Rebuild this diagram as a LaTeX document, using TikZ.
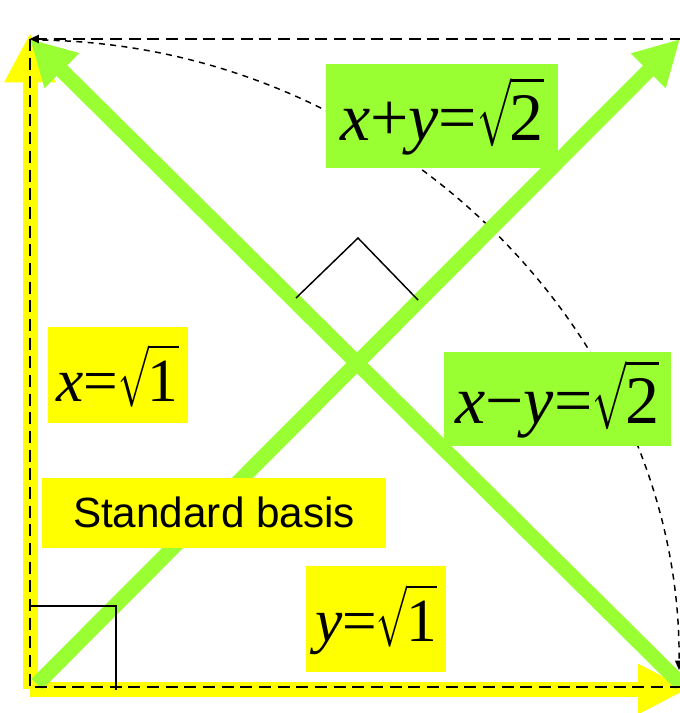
\RequirePackage{fix-cm}
\documentclass[tikz,border=0pt]{standalone}
\usepackage{graphicx}
\usepackage{fontspec}
\setmainfont{Liberation Serif}
\newfontfamily\arialf{Liberation Sans}
\usetikzlibrary{arrows.meta}
\definecolor{lgreen}{HTML}{99FF33}
\definecolor{yel}{HTML}{FFFF00}
\newsavebox\rtsign
\newsavebox\rtbody
\newcommand\rt[1]{\mbox{%
  \sbox\rtsign{$\sqrt{\rule[-0.04em]{0pt}{0.84em}}$}%
  \sbox\rtbody{#1}%
  \scalebox{0.6}[1]{\usebox\rtsign}%
  \kern-0.02em
  \rlap{\rule[\dimexpr\ht\rtsign-0.08em\relax]{\wd\rtbody}{0.04em}}%
  \usebox\rtbody}}
\begin{document}
\begin{tikzpicture}[x=0.75pt,y=-0.75pt,
  yarr/.style={draw=yel,line width=11.25pt},
  garr/.style={draw=lgreen,line width=11.25pt},
  bord/.style={black,line width=1.5pt,dash pattern=on 9pt off 5pt},
  curv/.style={black,line width=1.1pt,dash pattern=on 4.5pt off 4pt},
  rmark/.style={black,line width=1.1pt},
  lab/.style={inner sep=0pt,text=black,anchor=center},
  gfont/.style={font=\fontsize{51}{56}\selectfont},
  yfont/.style={font=\fontsize{46}{50}\selectfont}
]
\useasboundingbox (0,0) rectangle (680,713);
% coordinates
\coordinate (O) at (30,689);
\coordinate (Ytip) at (30,33);
\coordinate (Xtip) at (688,689);
\coordinate (G1s) at (37,684);
\coordinate (G1e) at (680,39);
\coordinate (G2s) at (681,684);
\coordinate (G2e) at (30,39);
\coordinate (TL) at (29.5,39);
\coordinate (TR) at (682,39);
\coordinate (BL) at (29.5,687);
\coordinate (BR) at (682,687);
\coordinate (Cs) at (31,40);
\coordinate (Ce) at (679,670);
% dashed rotation curve
\draw[curv,-{Triangle[length=7pt,width=6pt]}] (Cs) .. controls (390,40) and (682,335) .. (Ce);
% standard basis (yellow)
\draw[yarr,-{Triangle[length=37pt,width=36pt]}] (O) -- (Ytip);
\draw[yarr,-{Triangle[length=37.5pt,width=35pt]}] (O) -- (Xtip);
% rotated basis (green)
\draw[garr,-{Triangle[length=33.75pt,width=34.5pt]}] (G1s) -- (G1e);
\draw[garr,-{Triangle[length=33.75pt,width=34.5pt]}] (G2s) -- (G2e);
% dashed frame
\draw[bord,-{Triangle[length=7pt,width=6pt]}] (TR) -- (TL);
\draw[bord] (TL) -- (BL) -- (BR);
% right-angle marks
\draw[rmark] (29.5,606) -- (116,606) -- (116,690);
\draw[rmark] (296,298) -- (358,238) -- (418,300);
% labels
\node[lab,fill=lgreen,minimum width=174pt,minimum height=78pt,gfont] (lxy) at (442,116) {\textit{x}+\textit{y}=\rt{2}};
\node[lab,fill=lgreen,minimum width=170.25pt,minimum height=70.5pt,gfont] (lxmy) at (557.3,399) {\textit{x}−\textit{y}=\rt{2}};
\node[lab,fill=yel,minimum width=105pt,minimum height=72pt,yfont] (lx) at (117.7,375.3) {\textit{x}=\rt{1}};
\node[lab,fill=yel,minimum width=105pt,minimum height=79.5pt,yfont] (ly) at (376,619) {\textit{y}=\rt{1}};
\node[lab,fill=yel,minimum width=258pt,minimum height=52.5pt,font=\arialf\fontsize{31.7}{36}\selectfont] (std) at (214,512.5) {Standard basis};
\end{tikzpicture}
\end{document}
